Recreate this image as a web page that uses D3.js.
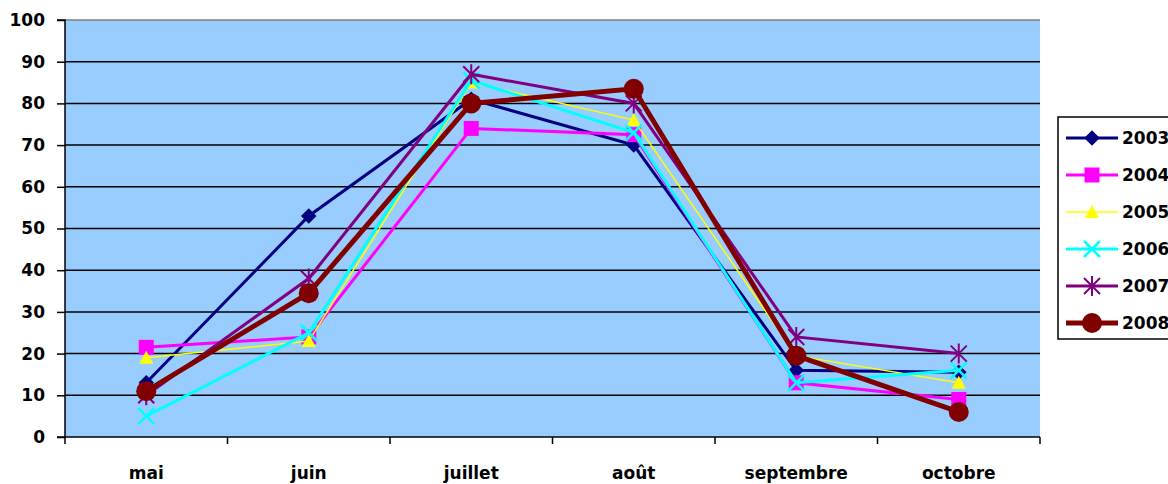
<!DOCTYPE html>
<html>
<head>
<meta charset="utf-8">
<script src="https://cdn.jsdelivr.net/npm/d3@7"></script>
<style>
  html, body { margin: 0; padding: 0; background: #fff; overflow: hidden; }
  svg text { font-family: "DejaVu Sans", Verdana, sans-serif; font-weight: bold; }
</style>
</head>
<body>
<svg id="chart" width="1168" height="484"></svg>
<script>
// Months of the season
const months = ["mai", "juin", "juillet", "août", "septembre", "octobre"];

// One series per year
const years = ["2003", "2004", "2005", "2006", "2007", "2008"];
const v2003 = [13, 53, 81, 70, 16, 15.5];
const v2004 = [21.5, 24, 74, 72.5, 13, 9];
const v2005 = [19, 23, 85, 76, 19.5, 13];
const v2006 = [5, 25, 85.5, 73, 13, 16];
const v2007 = [10, 38, 87, 80, 24, 20];
const v2008 = [11, 34.5, 80, 83.5, 19.5, 6];

const yTicks = [0, 10, 20, 30, 40, 50, 60, 70, 80, 90, 100];

const seriesValues = [v2003, v2004, v2005, v2006, v2007, v2008];
const colors = ["#000080", "#ff00ff", "#ffff00", "#00ffff", "#800080", "#800000"];
const widths = [3, 3, 1.5, 3, 3, 5];
const shapes = ["diamond", "square", "triangle", "cross", "star", "circle"];

const svg = d3.select("#chart");
const plot = { left: 65, right: 1040, top: 20, bottom: 437 };

const x = d3.scaleBand().domain(months).range([plot.left, plot.right]).padding(0);
const y = d3.scaleLinear().domain([0, 100]).range([plot.bottom, plot.top]);
const cx = m => x(m) + x.bandwidth() / 2;

// Plot background
svg.append("rect")
  .attr("x", plot.left).attr("y", plot.top)
  .attr("width", plot.right - plot.left).attr("height", plot.bottom - plot.top)
  .attr("fill", "#99ccff");

// Horizontal gridlines
svg.append("g").selectAll("line").data(yTicks.filter(t => t > 0 && t < 100)).join("line")
  .attr("x1", plot.left).attr("x2", plot.right)
  .attr("y1", d => y(d)).attr("y2", d => y(d))
  .attr("stroke", "#000").attr("stroke-width", 1.5);
svg.append("line")
  .attr("x1", plot.left).attr("x2", plot.right)
  .attr("y1", y(100)).attr("y2", y(100))
  .attr("stroke", "#808080").attr("stroke-width", 1.5);

// Y axis
const yAxis = d3.axisLeft(y).tickValues(yTicks).tickSize(8).tickPadding(12);
const gy = svg.append("g").attr("transform", `translate(${plot.left},0)`).call(yAxis);
gy.select(".domain").attr("stroke", "#000").attr("stroke-width", 1.5).attr("d", `M-8,${y(100)}H0V${y(0)}H-8`);
gy.selectAll(".tick line").attr("stroke", "#000").attr("stroke-width", 1.5);
gy.selectAll(".tick text").attr("font-size", 17).attr("fill", "#000");

// X axis: ticks at category boundaries, labels centred in each band
const gx = svg.append("g").attr("transform", `translate(0,${plot.bottom})`);
gx.append("line").attr("x1", plot.left).attr("x2", plot.right)
  .attr("stroke", "#000").attr("stroke-width", 1.5);
const boundaries = months.map(m => x(m)).concat([plot.right]);
gx.selectAll("line.tk").data(boundaries).join("line").attr("class", "tk")
  .attr("x1", d => d).attr("x2", d => d).attr("y1", 0).attr("y2", 7)
  .attr("stroke", "#000").attr("stroke-width", 1.5);
gx.selectAll("text").data(months).join("text")
  .attr("x", d => cx(d)).attr("y", 42)
  .attr("text-anchor", "middle").attr("font-size", 17).attr("fill", "#000")
  .text(d => d);

// Marker drawing
function marker(g, shape, color, px, py) {
  if (shape === "diamond") {
    g.append("path").attr("d", d3.symbol(d3.symbolSquare, 120)())
      .attr("transform", `translate(${px},${py}) rotate(45)`).attr("fill", color);
  } else if (shape === "square") {
    g.append("rect").attr("x", px - 7.5).attr("y", py - 7.5).attr("width", 15).attr("height", 15).attr("fill", color);
  } else if (shape === "triangle") {
    g.append("path").attr("d", `M${px},${py - 7}L${px + 7},${py + 6}L${px - 7},${py + 6}Z`).attr("fill", color);
  } else if (shape === "cross") {
    g.append("path").attr("d", `M${px - 8},${py - 8}L${px + 8},${py + 8}M${px + 8},${py - 8}L${px - 8},${py + 8}`)
      .attr("stroke", color).attr("stroke-width", 2.5).attr("fill", "none");
  } else if (shape === "star") {
    g.append("path").attr("d", `M${px - 8},${py - 8}L${px + 8},${py + 8}M${px + 8},${py - 8}L${px - 8},${py + 8}M${px},${py - 10}L${px},${py + 10}`)
      .attr("stroke", color).attr("stroke-width", 2).attr("fill", "none");
  } else if (shape === "circle") {
    g.append("circle").attr("cx", px).attr("cy", py).attr("r", 10).attr("fill", color);
  }
}

// Series lines and markers
const line = d3.line().x(d => cx(d.m)).y(d => y(d.v));
seriesValues.forEach((vals, i) => {
  const g = svg.append("g");
  const pts = months.map((m, j) => ({ m, v: vals[j] }));
  g.append("path").datum(pts).attr("d", line)
    .attr("fill", "none").attr("stroke", colors[i]).attr("stroke-width", widths[i])
    .attr("stroke-linejoin", "miter");
  pts.forEach(p => marker(g, shapes[i], colors[i], cx(p.m), y(p.v)));
});

// Legend
const lg = svg.append("g");
lg.append("rect").attr("x", 1058).attr("y", 117).attr("width", 130).attr("height", 222)
  .attr("fill", "#fff").attr("stroke", "#000").attr("stroke-width", 1.5);
years.forEach((yr, i) => {
  const ly = 138 + i * 37;
  lg.append("line").attr("x1", 1066).attr("x2", 1118).attr("y1", ly).attr("y2", ly)
    .attr("stroke", colors[i]).attr("stroke-width", widths[i]);
  marker(lg, shapes[i], colors[i], 1092, ly);
  lg.append("text").attr("x", 1122).attr("y", ly + 6).attr("font-size", 17).attr("fill", "#000").text(yr);
});
</script>
</body>
</html>
